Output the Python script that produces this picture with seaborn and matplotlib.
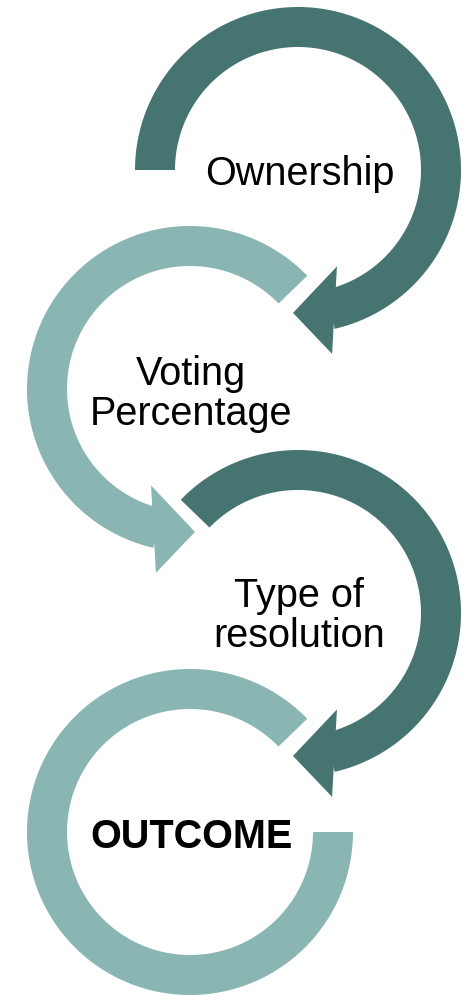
import numpy as np
import matplotlib
matplotlib.use("Agg")
import matplotlib.pyplot as plt
import seaborn as sns
from matplotlib.patches import Polygon

# stages of the flow, top to bottom
stages = ["Ownership", "Voting\nPercentage", "Type of\nresolution", "OUTCOME"]
bold = [False, False, False, True]
shades = ["dark", "light", "dark", "light"]
# arc start / end angles (degrees, counterclockwise from east) and turn direction
start_deg = [180, 44, 136, 44]
end_deg = [-76, 256, -76, 360]
turn = [-1, 1, -1, 1]
has_head = [True, True, True, False]

palette = {"dark": "#467470", "light": "#89B5B2"}

# layout (pixels, y downward)
centers = [(298, 170), (190, 389), (298, 613), (190, 832)]
text_baselines = [[185], [385, 425], [607, 647], [848]]
R_IN, R_OUT = 123, 163

sns.set_theme(style="white")
plt.rcParams["font.family"] = ["Liberation Sans", "DejaVu Sans"]

fig = plt.figure(figsize=(4.62, 9.96), dpi=100)
ax = fig.add_axes([0, 0, 1, 1])
ax.set_xlim(0, 462)
ax.set_ylim(996, 0)
ax.set_aspect("equal")
ax.axis("off")


def pt(c, r, deg):
    a = np.radians(deg)
    return (c[0] + r * np.cos(a), c[1] - r * np.sin(a))


for i, name in enumerate(stages):
    c = centers[i]
    s = turn[i]
    col = palette[shades[i]]
    a0 = start_deg[i]
    a1 = end_deg[i] + (s * 1 if has_head[i] else 0)
    ang = np.linspace(a0, a1, 200)
    outer = [pt(c, R_OUT, a) for a in ang]
    inner = [pt(c, R_IN, a) for a in ang[::-1]]
    ax.add_patch(Polygon(outer + inner, closed=True, fc=col, ec="none",
                         zorder=3 if shades[i] == "dark" else 2))
    if has_head[i]:
        e = end_deg[i]
        head = [pt(c, 104, e - s * 8), pt(c, 187, e + s * 3.5),
                pt(c, 143, e + s * 16)]
        ax.add_patch(Polygon(head, closed=True, fc=col, ec="none",
                             zorder=3 if shades[i] == "dark" else 2))
    for line, yb in zip(name.split("\n"), text_baselines[i]):
        ax.text(c[0] + (2 if i == 0 else 1), yb, line, ha="center", va="baseline",
                fontsize=28.5, color="black",
                fontweight="bold" if bold[i] else "normal", zorder=5)

fig.savefig("out.png", dpi=100, facecolor="white")
